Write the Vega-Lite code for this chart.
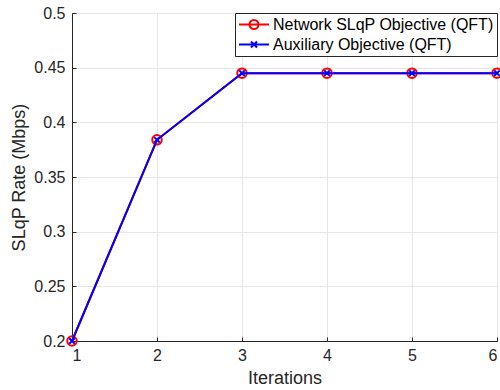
{
  "$schema": "https://vega.github.io/schema/vega-lite/v6.json",
  "width": 425,
  "height": 328,
  "autosize": {"type": "none"},
  "padding": {"left": 72, "top": 13, "right": 3, "bottom": 49},
  "config": {
    "font": "Liberation Sans",
    "view": {"stroke": "#262626", "strokeWidth": 1},
    "axis": {
      "labelFont": "Liberation Sans",
      "titleFont": "Liberation Sans",
      "labelFontSize": 16,
      "titleFontSize": 18,
      "titleFontWeight": "normal",
      "labelColor": "#262626",
      "titleColor": "#262626",
      "domainColor": "#262626",
      "tickColor": "#262626",
      "gridColor": "#e6e6e6",
      "gridOpacity": 1,
      "tickSize": -4
    }
  },
  "data": {
    "values": [
      {"iter": 1, "rate": 0.2, "series": "Network SLqP Objective (QFT)"},
      {"iter": 2, "rate": 0.384, "series": "Network SLqP Objective (QFT)"},
      {"iter": 3, "rate": 0.445, "series": "Network SLqP Objective (QFT)"},
      {"iter": 4, "rate": 0.445, "series": "Network SLqP Objective (QFT)"},
      {"iter": 5, "rate": 0.445, "series": "Network SLqP Objective (QFT)"},
      {"iter": 6, "rate": 0.445, "series": "Network SLqP Objective (QFT)"},
      {"iter": 1, "rate": 0.2, "series": "Auxiliary Objective (QFT)"},
      {"iter": 2, "rate": 0.384, "series": "Auxiliary Objective (QFT)"},
      {"iter": 3, "rate": 0.445, "series": "Auxiliary Objective (QFT)"},
      {"iter": 4, "rate": 0.445, "series": "Auxiliary Objective (QFT)"},
      {"iter": 5, "rate": 0.445, "series": "Auxiliary Objective (QFT)"},
      {"iter": 6, "rate": 0.445, "series": "Auxiliary Objective (QFT)"}
    ]
  },
  "encoding": {
    "x": {
      "field": "iter", "type": "quantitative",
      "scale": {"domain": [1, 6], "nice": false, "zero": false},
      "axis": {"title": "Iterations", "values": [1, 2, 3, 4, 5, 6], "format": "d", "labelPadding": 10, "titlePadding": 6}
    },
    "y": {
      "field": "rate", "type": "quantitative",
      "scale": {"domain": [0.2, 0.5], "nice": false, "zero": false},
      "axis": {"title": "SLqP Rate (Mbps)", "values": [0.2, 0.25, 0.3, 0.35, 0.4, 0.45, 0.5], "format": "~g", "labelPadding": 11, "titlePadding": 5}
    },
    "color": {
      "field": "series", "type": "nominal",
      "scale": {"domain": ["Network SLqP Objective (QFT)", "Auxiliary Objective (QFT)"], "range": ["#ff0000", "#0000ff"]},
      "legend": {
        "title": null,
        "orient": "top-right",
        "offset": 0,
        "fillColor": "white",
        "strokeColor": "#262626",
        "padding": 3,
        "labelFontSize": 16,
        "labelColor": "#000000",
        "labelFont": "Liberation Sans",
        "labelLimit": 400,
        "symbolSize": 225,
        "symbolStrokeWidth": 2,
        "rowPadding": 3,
        "labelOffset": 18,
        "encode": {
          "symbols": {
            "update": {
              "shape": {"signal": "datum.value === 'Auxiliary Objective (QFT)' ? 'M-1,0L3,0M0.6,-0.4L1.4,0.4M0.6,0.4L1.4,-0.4' : 'M-1,0L3,0M1.6,0A0.6,0.6,0,1,1,0.4,0A0.6,0.6,0,1,1,1.6,0'"},
              "fill": {"value": "transparent"},
              "strokeWidth": {"value": 2}
            }
          }
        }
      }
    }
  },
  "layer": [
    {"transform": [{"filter": "datum.series === 'Network SLqP Objective (QFT)'"}], "mark": {"type": "line", "strokeWidth": 2}},
    {"transform": [{"filter": "datum.series === 'Network SLqP Objective (QFT)'"}], "mark": {"type": "point", "shape": "circle", "filled": false, "size": 90, "strokeWidth": 2, "opacity": 1}},
    {"transform": [{"filter": "datum.series === 'Auxiliary Objective (QFT)'"}], "mark": {"type": "line", "strokeWidth": 2}},
    {"transform": [{"filter": "datum.series === 'Auxiliary Objective (QFT)'"}], "mark": {"type": "point", "shape": "M-1,-1L1,1M-1,1L1,-1", "filled": false, "size": 30, "strokeWidth": 2, "opacity": 1}}
  ]
}
